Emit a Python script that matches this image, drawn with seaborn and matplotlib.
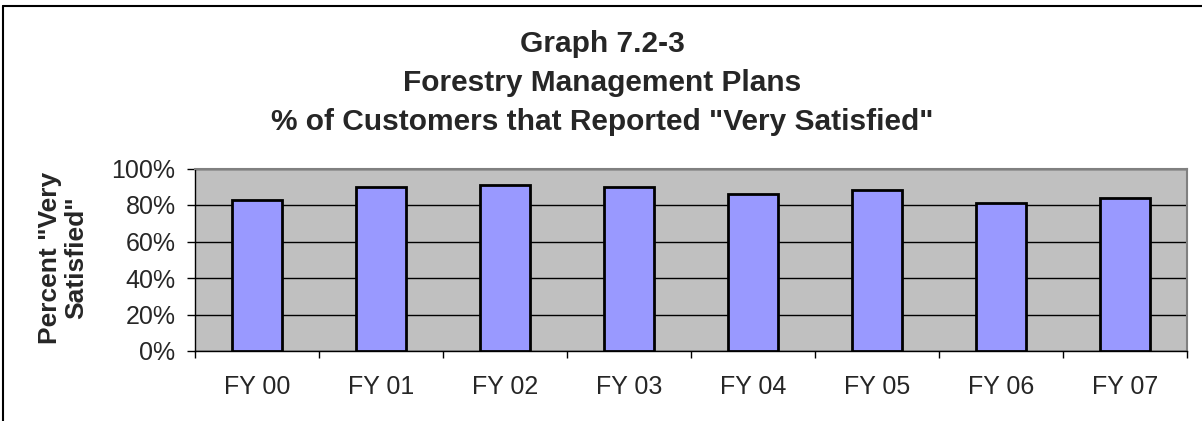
import pandas as pd
import seaborn as sns
import matplotlib.pyplot as plt
from matplotlib.lines import Line2D
from matplotlib.ticker import FuncFormatter, FixedLocator

# values
years = ["FY 00", "FY 01", "FY 02", "FY 03", "FY 04", "FY 05", "FY 06", "FY 07"]
pct_very_satisfied = [83, 90, 91, 90, 86, 88, 81, 84]

sns.set_theme(style="white")
plt.rcParams['font.family'] = ['Liberation Sans', 'DejaVu Sans']

df = pd.DataFrame({"year": years, "pct": pct_very_satisfied})

W, H = 1202, 421
fig = plt.figure(figsize=(W / 100, H / 100), dpi=100)
ax = fig.add_axes([195 / W, 1 - 351 / H, (1187 - 195) / W, (351 - 168.5) / H])
ax.set_facecolor("#C0C0C0")

sns.barplot(data=df, x="year", y="pct", color="#9999FF", width=0.4,
            edgecolor="black", linewidth=2, saturation=1, ax=ax, zorder=3)

ax.set_ylim(0, 100)
ax.set_xlim(-0.5, len(years) - 0.5)
ax.set_yticks(range(0, 101, 20))
ax.yaxis.set_major_formatter(FuncFormatter(lambda v, p: f"{v:.0f}%"))
ax.grid(axis="y", color="black", linewidth=1, zorder=1)
ax.set_axisbelow(True)

# boundary tick marks on x, labels centred under bars
ax.xaxis.set_minor_locator(FixedLocator([i - 0.5 for i in range(len(years) + 1)]))
ax.tick_params(axis="x", which="minor", length=5, width=1, color="black", direction="out", bottom=True)
ax.tick_params(axis="x", which="major", length=0, pad=17, labelsize=18)
ax.tick_params(axis="y", length=6, width=1, color="black", direction="out", left=True, pad=8, labelsize=18)

ax.set_xlabel("")
ax.set_ylabel("")
fig.text(63 / W, 1 - 258 / H, 'Percent "Very\nSatisfied"', rotation=90, ha="center", va="center",
         multialignment="center", fontsize=19, fontweight="bold", linespacing=1.1)

for side in ["top", "right"]:
    ax.spines[side].set_color("#808080")
    ax.spines[side].set_linewidth(1.5)
for side in ["left", "bottom"]:
    ax.spines[side].set_color("black")
    ax.spines[side].set_linewidth(1)

title_lines = ["Graph 7.2-3", "Forestry Management Plans",
               '% of Customers that Reported "Very Satisfied"']
for i, line in enumerate(title_lines):
    fig.text(602 / W, 1 - (52 + 39 * i) / H, line, ha="center", va="baseline",
             fontsize=21.5, fontweight="bold")

# outer chart frame (top and left edges visible)
fig.add_artist(Line2D([3 / W, 1], [1 - 6 / H, 1 - 6 / H], transform=fig.transFigure, color="black", linewidth=1.5))
fig.add_artist(Line2D([3 / W, 3 / W], [0, 1 - 6 / H], transform=fig.transFigure, color="black", linewidth=1.5))

fig.savefig("out.png", dpi=100)
